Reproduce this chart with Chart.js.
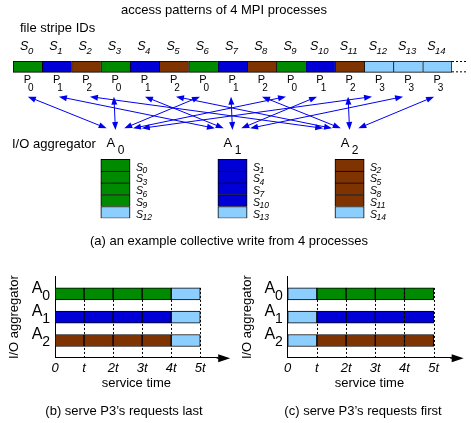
<!DOCTYPE html>
<html lang="en">
<head>
<meta charset="UTF-8">
<title>Collective write from 4 MPI processes</title>
<script src="https://cdn.jsdelivr.net/npm/chart.js"></script>
<style>
  body { margin: 0; background: #fff; }
  #wrap { position: relative; width: 471px; height: 423px; }
  #wrap > div { position: absolute; }
</style>
</head>
<body>
<div id="wrap">
  <div style="left:0;top:0;width:471px;height:250px"><canvas id="grafico_acesso"></canvas></div>
  <div style="left:0;top:250px;width:235px;height:173px"><canvas id="grafico_ultimo"></canvas></div>
  <div style="left:233px;top:250px;width:238px;height:173px"><canvas id="grafico_primeiro"></canvas></div>
</div>

<script>
  // --- data ---
  const stripeIds = [0, 1, 2, 3, 4, 5, 6, 7, 8, 9, 10, 11, 12, 13, 14];
  const stripeOwner = [0, 1, 2, 0, 1, 2, 0, 1, 2, 0, 1, 2, 3, 3, 3];      // P index writing each stripe
  const stripeAggregator = [0, 1, 2, 0, 1, 2, 0, 1, 2, 0, 1, 2, 0, 1, 2]; // A index serving each stripe
  const aggregatorIds = [0, 1, 2];
  const timeLabels = ['0', 't', '2t', '3t', '4t', '5t'];
  const orderP3Last = [0, 1, 2, 3, 4];   // k-th stripe of the aggregator served in slot s
  const orderP3First = [4, 0, 1, 2, 3];

  // --- look ---
  const FAMILY = "'Liberation Sans', Arial, sans-serif";
  const colors = ['#008a00', '#0000d6', '#7f3300', '#8ccfff'];
  const arrowColor = '#0000f0';
  const stripeRow = [0, 0.96];   // y range of the stripe row (cell units)
  const stackTop = 8.33;         // first aggregator cell (cell units)
  const aggColumn = [3, 7, 11];  // stripe column each aggregator sits under

  Chart.defaults.font.family = FAMILY;
  Chart.defaults.color = '#000';

  function subText(ctx, main, sub, x, y, o) {
    const f = s => (o.italic ? 'italic ' : '') + s + 'px ' + FAMILY;
    ctx.font = f(o.size);
    const w1 = ctx.measureText(main).width;
    ctx.font = f(o.subSize);
    const w2 = ctx.measureText(sub).width;
    let x0 = x;
    if (o.center) x0 = x - (w1 + o.gap + w2) / 2;
    ctx.textAlign = 'left';
    ctx.textBaseline = 'alphabetic';
    ctx.fillStyle = '#000';
    ctx.font = f(o.size);
    ctx.fillText(main, x0, y);
    ctx.font = f(o.subSize);
    ctx.fillText(sub, x0 + w1 + o.gap, y + o.dy);
  }

  function head(ctx, x1, y1, x2, y2, len, half) {
    const a = Math.atan2(y2 - y1, x2 - x1);
    const c = Math.cos(a), s = Math.sin(a);
    ctx.beginPath();
    ctx.moveTo(x2, y2);
    ctx.lineTo(x2 - len * c + half * s, y2 - len * s - half * c);
    ctx.lineTo(x2 - len * c - half * s, y2 - len * s + half * c);
    ctx.closePath();
    ctx.fill();
  }

  function text(ctx, str, x, y, size, align) {
    ctx.font = size + 'px ' + FAMILY;
    ctx.textAlign = align || 'left';
    ctx.textBaseline = 'alphabetic';
    ctx.fillStyle = '#000';
    ctx.fillText(str, x, y);
  }

  // ---------- (a) access patterns ----------
  const stripeData = stripeIds.map(i => ({ x: i + 0.5, y: stripeRow }));
  const stackData = stripeIds.map(i => {
    const a = stripeAggregator[i];
    const k = stripeIds.filter(s => s < i && stripeAggregator[s] === a).length;
    return { x: aggColumn[a] + 0.5, y: [stackTop + k, stackTop + k + 1] };
  });
  const isLastOfStack = i => !stripeIds.some(s => s > i && stripeAggregator[s] === stripeAggregator[i]);

  const extrasA = {
    id: 'extrasA',
    afterDatasetsDraw(chart) {
      const ctx = chart.ctx;
      const xs = chart.scales.x, ys = chart.scales.y;
      const cx = i => xs.getPixelForValue(i + 0.5);
      const sTop = ys.getPixelForValue(stripeRow[0]);
      const sBot = ys.getPixelForValue(stripeRow[1]);
      const aTop = ys.getPixelForValue(stackTop);
      ctx.save();

      text(ctx, 'access patterns of 4 MPI processes', 224, 14, 13, 'center');
      text(ctx, 'file stripe IDs', 20, 32, 13);

      // dotted continuation of the file
      const xEnd = xs.getPixelForValue(15);
      ctx.strokeStyle = '#000';
      ctx.lineWidth = 1;
      ctx.setLineDash([2, 2]);
      [sTop + 0.5, sBot - 0.5].forEach(y => {
        ctx.beginPath(); ctx.moveTo(xEnd, y); ctx.lineTo(xEnd + 15, y); ctx.stroke();
      });
      ctx.setLineDash([]);

      stripeIds.forEach(i => {
        subText(ctx, 'S', String(i), cx(i) - 1, sTop - 11,
          { size: 12.5, subSize: 9.5, italic: true, gap: -0.5, dy: 3.5, center: true });
        subText(ctx, 'P', String(stripeOwner[i]), cx(i) + 1, sBot + 11,
          { size: 11, subSize: 10, gap: -3, dy: 7.2, center: true });
      });

      // arrows between stripes and their aggregator
      ctx.strokeStyle = arrowColor;
      ctx.fillStyle = arrowColor;
      stripeIds.forEach(i => {
        const ax = cx(aggColumn[stripeAggregator[i]]);
        const px = cx(i);
        const x1 = px - 1.5 + (ax - px) * 0.02, y1 = sBot + 24.3;
        let x2 = ax + (px - ax) * 0.1, y2 = aTop - 31;
        if (Math.abs(px - ax) < 1) { x2 = ax; y2 = aTop - 29.3; }
        const a = Math.atan2(y2 - y1, x2 - x1);
        ctx.beginPath();
        ctx.moveTo(x1 + 6 * Math.cos(a), y1 + 6 * Math.sin(a));
        ctx.lineTo(x2 - 6 * Math.cos(a), y2 - 6 * Math.sin(a));
        ctx.stroke();
        head(ctx, x1, y1, x2, y2, 8, 3);
        head(ctx, x2, y2, x1, y1, 8, 3);
      });

      text(ctx, 'I/O aggregator', 12, 147.5, 13);
      aggregatorIds.forEach(j => {
        subText(ctx, 'A', String(j), cx(aggColumn[j]), aTop - 12.6,
          { size: 13, subSize: 12, gap: 2.5, dy: 7.6, center: true });
      });

      // stripe ids next to each aggregator cell
      stackData.forEach((d, i) => {
        const right = xs.getPixelForValue(d.x) + 15;
        const bottom = ys.getPixelForValue(d.y[1]);
        subText(ctx, 'S', String(i), right + 5.5, bottom - 0.5,
          { size: 10.5, subSize: 8.5, italic: true, gap: -0.5, dy: 2.5 });
      });

      text(ctx, '(a) an example collective write from 4 processes', 229, 244.5, 13, 'center');
      ctx.restore();
    }
  };

  new Chart(document.getElementById('grafico_acesso'), {
    type: 'bar',
    data: {
      datasets: [{
        data: stripeData,
        backgroundColor: stripeOwner.map(p => colors[p]),
        borderColor: '#000',
        borderWidth: c => ({ top: 1, bottom: 1, left: 1, right: c.dataIndex === stripeIds.length - 1 ? 1 : 0 }),
        borderSkipped: false,
        grouped: false,
        barPercentage: 1,
        categoryPercentage: 1
      }, {
        data: stackData,
        backgroundColor: stripeOwner.map(p => colors[p]),
        borderColor: '#000',
        borderWidth: c => ({ top: 1, left: 1, right: 1, bottom: isLastOfStack(c.dataIndex) ? 1 : 0 }),
        borderSkipped: false,
        grouped: false,
        barPercentage: 1,
        categoryPercentage: 1
      }]
    },
    options: {
      responsive: true,
      maintainAspectRatio: false,
      animation: false,
      layout: { padding: { left: 13, right: 19, top: 61, bottom: 31.7 } },
      plugins: { legend: { display: false }, tooltip: { enabled: false } },
      scales: {
        x: { type: 'linear', min: 0, max: 15, offset: false, display: false, ticks: { stepSize: 1 } },
        y: { type: 'linear', reverse: true, min: 0, max: stackTop + 5, offset: false, display: false }
      }
    },
    plugins: [extrasA]
  });

  // ---------- (b) and (c) service time ----------
  function ganttExtras(caption, captionX) {
    return {
      id: 'ganttExtras',
      beforeDatasetsDraw(chart) {
        const ctx = chart.ctx;
        const xs = chart.scales.x;
        const first = chart.getDatasetMeta(0).data[0];
        const top = first.y - first.height / 2;
        ctx.save();
        ctx.strokeStyle = '#000';
        ctx.lineWidth = 1;
        ctx.setLineDash([2, 2]);
        for (let v = 1; v < timeLabels.length; v++) {
          const x = Math.round(xs.getPixelForValue(v)) + 0.5;
          ctx.beginPath(); ctx.moveTo(x, top); ctx.lineTo(x, chart.chartArea.bottom); ctx.stroke();
        }
        ctx.restore();
      },
      afterDraw(chart) {
        const ctx = chart.ctx;
        const area = chart.chartArea;
        const ys = chart.scales.y;
        ctx.save();
        // axis arrow
        ctx.strokeStyle = '#000';
        ctx.fillStyle = '#000';
        ctx.lineWidth = 1;
        const tip = area.right + 12.5;
        ctx.beginPath(); ctx.moveTo(area.right - 1, area.bottom + 0.5); ctx.lineTo(tip - 10, area.bottom + 0.5); ctx.stroke();
        head(ctx, area.right, area.bottom + 0.5, tip, area.bottom + 0.5, 12, 4);

        aggregatorIds.forEach(j => {
          const y = ys.getPixelForValue(j);
          subText(ctx, 'A', String(j), area.left - 23.3, y - 1,
            { size: 16, subSize: 14, gap: 0, dy: 7 });
        });
        text(ctx, caption, captionX, 164.5, 13, 'center');
        ctx.restore();
      }
    };
  }

  function ganttChart(id, order, caption, captionX, axisLeft, padRight) {
    const data = [];
    const bg = [];
    aggregatorIds.forEach(j => {
      const mine = stripeIds.filter(i => stripeAggregator[i] === j);
      order.forEach((k, s) => {
        data.push({ x: [s, s + 1], y: j });
        bg.push(colors[stripeOwner[mine[k]]]);
      });
    });
    return new Chart(document.getElementById(id), {
      type: 'bar',
      data: {
        datasets: [{
          data: data,
          backgroundColor: bg,
          borderColor: '#000',
          borderWidth: 1,
          borderSkipped: false,
          barThickness: 12
        }]
      },
      options: {
        indexAxis: 'y',
        responsive: true,
        maintainAspectRatio: false,
        animation: false,
        layout: { padding: { left: 0, right: padRight, top: 26.7, bottom: 0 } },
        plugins: { legend: { display: false }, tooltip: { enabled: false } },
        scales: {
          x: {
            type: 'linear', min: 0, max: 5.6, offset: false,
            grid: { display: false },
            border: { color: '#000', width: 1 },
            ticks: {
              stepSize: 1, includeBounds: false, padding: -5, color: '#000',
              font: { size: 13, style: 'italic' },
              callback: v => timeLabels[v]
            },
            title: { display: true, text: 'service time', color: '#000', font: { size: 13 }, padding: { top: 0, bottom: 32 } },
            afterFit: s => { s.height = 65.3; }
          },
          y: {
            type: 'linear', reverse: true, min: -0.74, max: 2.74, offset: false,
            grid: { display: false },
            border: { color: '#000', width: 1 },
            ticks: { display: false },
            title: { display: true, text: 'I/O aggregator', color: '#000', font: { size: 13 }, padding: { top: 7, bottom: 0 } },
            afterFit: s => { s.width = axisLeft; }
          }
        }
      },
      plugins: [ganttExtras(caption, captionX)]
    });
  }

  ganttChart('grafico_ultimo', orderP3Last, '(b) serve P3\u2019s requests last', 124, 55, 17.3);
  ganttChart('grafico_primeiro', orderP3First, '(c) serve P3\u2019s requests first', 130, 54.7, 19.8);
</script>
</body>
</html>
